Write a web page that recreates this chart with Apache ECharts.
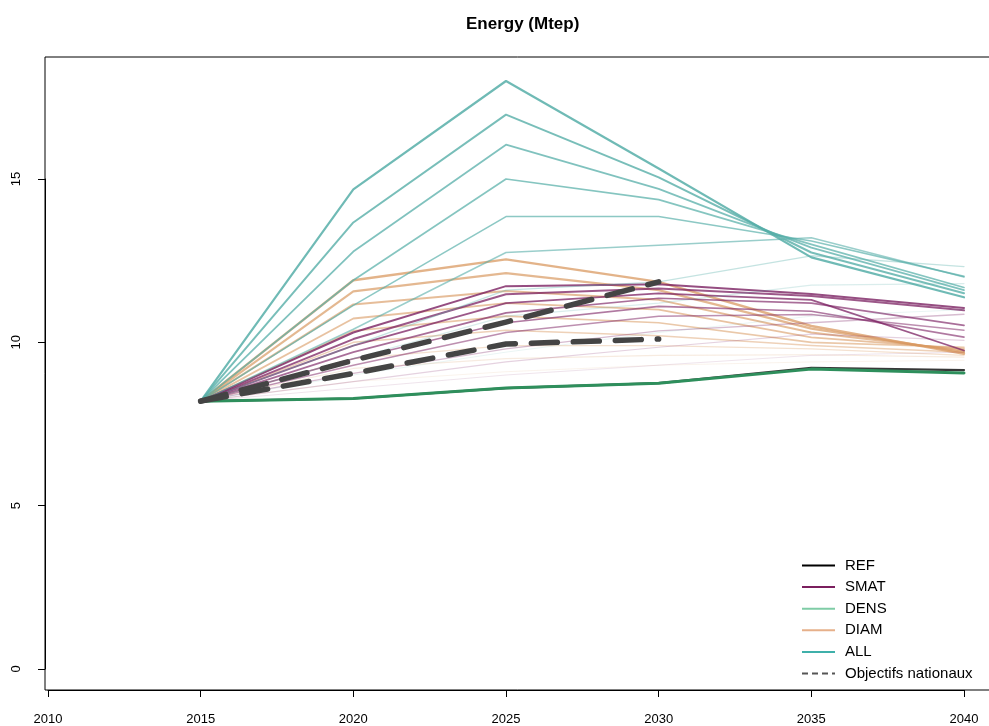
<!DOCTYPE html>
<html><head><meta charset="utf-8">
<script src="https://cdn.jsdelivr.net/npm/echarts@6/dist/echarts.min.js"></script>
<style>html,body{margin:0;padding:0;background:#fff}#c{width:989px;height:726px}</style>
</head><body><div id="c"></div>
<script>
// ---------- data ----------
const years = [2015, 2020, 2025, 2030, 2035, 2040];
const xTicks = [2010, 2015, 2020, 2025, 2030, 2035, 2040];
const yTicks = [0, 5, 10, 15];

const allLines = [
  [8.2, 14.68, 18.0, 15.32, 12.6, 11.38],
  [8.2, 13.67, 16.97, 15.05, 12.75, 11.5],
  [8.2, 12.78, 16.05, 14.7, 12.9, 11.6],
  [8.2, 11.9, 15.0, 14.37, 13.0, 11.68],
  [8.2, 11.13, 13.85, 13.85, 13.1, 12.02],
  [8.2, 10.4, 12.75, 12.97, 13.2, 12.0],
  [8.2, 9.9, 11.6, 11.85, 12.65, 12.32],
  [8.2, 9.5, 10.8, 11.2, 11.75, 11.8],
  [8.2, 9.0, 9.7, 10.3, 10.8, 11.0]
];
const smatLines = [
  [8.2, 10.3, 11.72, 11.78, 11.48, 11.05],
  [8.2, 10.1, 11.47, 11.65, 11.42, 10.98],
  [8.2, 9.9, 11.2, 11.5, 11.3, 9.75],
  [8.2, 9.7, 10.9, 11.35, 11.2, 10.52],
  [8.2, 9.5, 10.6, 11.1, 10.95, 10.16],
  [8.2, 9.3, 10.3, 10.8, 10.85, 10.37],
  [8.2, 9.05, 9.8, 10.35, 10.6, 10.86],
  [8.2, 8.8, 9.4, 9.85, 10.25, 10.06],
  [8.2, 8.6, 9.0, 9.3, 9.6, 9.7]
];
const diamLines = [
  [8.2, 11.9, 12.54, 11.85, 10.5, 9.65],
  [8.2, 11.56, 12.12, 11.6, 10.42, 9.7],
  [8.2, 11.16, 11.57, 11.3, 10.3, 9.75],
  [8.2, 10.73, 11.2, 11.0, 10.15, 9.8],
  [8.2, 10.35, 10.8, 10.6, 10.0, 9.85],
  [8.2, 10.0, 10.37, 10.2, 9.9, 9.7],
  [8.2, 9.5, 9.9, 9.9, 9.8, 9.6],
  [8.2, 9.2, 9.5, 9.6, 9.62, 9.55],
  [8.2, 8.8, 9.1, 9.3, 9.4, 9.45]
];
const refBlack = [8.2, 8.28, 8.6, 8.75, 9.22, 9.15];
const refGreen = [8.2, 8.28, 8.6, 8.75, 9.18, 9.06];
const objYears = [2015, 2020, 2025, 2030];
const objLines = [
  [8.2, 9.45, 10.62, 11.85],
  [8.2, 9.05, 9.95, 10.1]
];
const legendNames = ['REF', 'SMAT', 'DENS', 'DIAM', 'ALL', 'Objectifs nationaux'];

// ---------- styles ----------
const alphaAll = [0.85, 0.8, 0.75, 0.72, 0.68, 0.6, 0.35, 0.22, 0.12];
const widthAll = [2.2, 2, 1.8, 1.7, 1.6, 1.5, 1.3, 1.2, 1];
const alphaSmat = [0.8, 0.75, 0.75, 0.65, 0.6, 0.5, 0.3, 0.2, 0.12];
const widthSmat = [2, 2, 1.8, 1.7, 1.6, 1.5, 1.3, 1.2, 1];
const alphaDiam = [0.75, 0.7, 0.65, 0.6, 0.55, 0.45, 0.3, 0.2, 0.12];
const widthDiam = [2.4, 2.2, 2, 1.8, 1.7, 1.5, 1.3, 1.2, 1];

const FONT = 'Liberation Sans, Arial, Helvetica, sans-serif';
const cAll = '#56aea8', cSmat = '#7b2062', cDiam = '#d99a62';

function pairs(xs, ys) { return ys.map((v, i) => [xs[i], v]); }
function mk(name, xs, ys, color, w, a, extra) {
  return Object.assign({
    name: name, type: 'line', xAxisIndex: 0, yAxisIndex: 0,
    data: pairs(xs, ys), showSymbol: false, symbol: 'none', clip: false,
    silent: true, animation: false,
    lineStyle: { color: color, width: w, opacity: a, cap: 'round', join: 'round' },
    itemStyle: { color: color }
  }, extra || {});
}

const series = [];
diamLines.forEach((l, i) => series.push(mk('DIAM', years, l, cDiam, widthDiam[i], alphaDiam[i])));
smatLines.forEach((l, i) => series.push(mk('SMAT', years, l, cSmat, widthSmat[i], alphaSmat[i])));
allLines.forEach((l, i) => series.push(mk('ALL', years, l, cAll, widthAll[i], alphaAll[i])));
series.push(mk('REF', years, refBlack, '#222222', 2.2, 0.9));
series.push(mk('DENS', years, refGreen, '#2e8f5c', 3, 1));
objLines.forEach(l => series.push(mk('Objectifs nationaux', objYears, l, '#444444', 5.5, 1,
  { lineStyle: { color: '#444444', width: 5.5, type: [26, 16], cap: 'round', join: 'round' } })));

const legendColor = {
  'REF': '#000000', 'SMAT': '#7b1f5e', 'DENS': '#7fcca6',
  'DIAM': '#e6b08a', 'ALL': '#3fb0aa', 'Objectifs nationaux': '#555555'
};

const option = {
  animation: false,
  backgroundColor: '#ffffff',
  title: {
    text: 'Energy (Mtep)', left: 461, top: 11,
    textStyle: { fontFamily: FONT, fontWeight: 'bold', fontSize: 17, color: '#000' }
  },
  graphic: [{
    type: 'rect', silent: true, z: 0,
    shape: { x: 45, y: 57, width: 960, height: 633 },
    style: { fill: 'none', stroke: '#000', lineWidth: 1 }
  }],
  legend: {
    orient: 'vertical', left: 797, top: 553, itemWidth: 33, itemHeight: 14, itemGap: 6.6,
    selectedMode: false,
    textStyle: { fontFamily: FONT, fontSize: 15, color: '#000', padding: [0, 0, 0, 5] },
    data: legendNames.map(n => ({
      name: n,
      icon: n === 'Objectifs nationaux'
        ? 'path://M0,6 L6,6 L6,8 L0,8 Z M10,6 L16,6 L16,8 L10,8 Z M20,6 L26,6 L26,8 L20,8 Z M30,6 L33,6 L33,8 L30,8 Z'
        : 'path://M0,6 L33,6 L33,8 L0,8 Z',
      itemStyle: { color: legendColor[n], opacity: 1, borderWidth: 0 }
    }))
  },
  grid: [
    { left: 48, right: 25, top: 179, bottom: 57, show: false }
  ],
  xAxis: [
    {
      type: 'value', gridIndex: 0, min: xTicks[0], max: xTicks[xTicks.length - 1], interval: 5,
      offset: 21,
      axisLine: { show: true, onZero: false, lineStyle: { color: '#000', width: 1 } },
      axisTick: { show: true, length: 7, lineStyle: { color: '#000' } },
      axisLabel: { margin: 23, fontFamily: FONT, fontSize: 13, color: '#000', formatter: v => String(v) },
      splitLine: { show: false }
    }
  ],
  yAxis: [
    {
      type: 'value', gridIndex: 0, min: yTicks[0], max: yTicks[yTicks.length - 1], interval: 5,
      offset: 3,
      axisLine: { show: true, onZero: false, lineStyle: { color: '#000', width: 1 } },
      axisTick: { show: true, length: 7, lineStyle: { color: '#000' } },
      axisLabel: { rotate: 90, margin: 22, fontFamily: FONT, fontSize: 13, color: '#000', formatter: v => String(v) },
      splitLine: { show: false }
    }
  ],
  series: series
};

const chart = echarts.init(document.getElementById('c'), null, { renderer: 'canvas' });
chart.setOption(option);
</script>
</body></html>
